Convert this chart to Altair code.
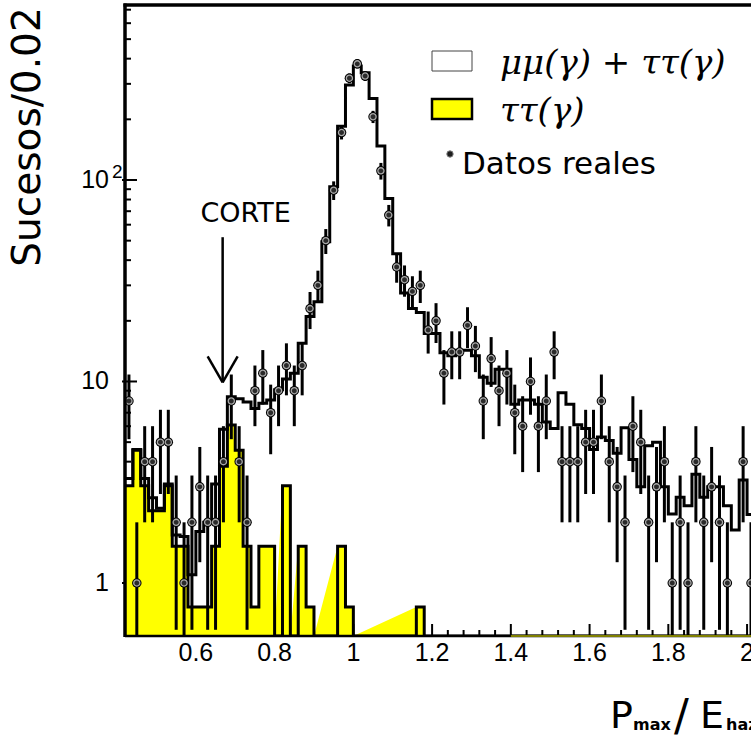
import math
import altair as alt
import pandas as pd

# ---- binning: 0.02 wide bins starting at 0.42 ----
BIN_LO = 0.42
BIN_W = 0.02
N_BINS = 80

# observed events per bin ("Datos reales")
data_counts = [8, 1, 4, 4, 5, 5, 2, 1, 2, 3,
               2, 2, 4, 8, 4, 2, 9, 11, 7, 9,
               12, 9, 12, 23, 30, 50, 89, 172, 320, 377,
               328, 206, 111, 67, 37, 32, 28, 30, 18, 20,
               11, 14, 14, 19, 15, 8, 13, 9, 11, 7,
               6, 10, 6, 8, 14, 4, 4, 4, 5, 5,
               8, 4, 3, 2, 6, 5, 2, 3, 4, 1,
               2, 1, 4, 2, 3, 2, 1, 0, 4, 1]

# simulation: mu mu(gamma) + tau tau(gamma)
mc_total = [3.3, 4.6, 3.3, 2.65, 2.35, 3.1, 1.73, 1.7, 1.1, 1.8,
            2.0, 3.1, 5.8, 8.4, 8.2, 7.9, 7.35, 7.8, 8.1, 9.1,
            10.3, 11.0, 15.5, 21.0, 24.9, 49.4, 92.6, 185.0, 296.0, 368.0,
            341.0, 254.0, 147.5, 81.0, 43.0, 27.5, 23.0, 22.0, 17.3, 17.3,
            13.9, 13.4, 14.3, 14.3, 13.4, 10.5, 9.8, 11.5, 11.5, 7.7,
            8.1, 8.1, 7.7, 6.3, 5.85, 8.8, 7.7, 6.1, 5.85, 4.6,
            5.3, 5.1, 4.4, 5.9, 4.1, 3.0, 4.8, 5.0, 3.0, 2.2,
            2.66, 2.42, 3.46, 2.66, 3.0, 3.0, 2.42, 1.83, 3.24, 2.19]

# simulation: tau tau(gamma) alone
mc_tautau = [3.04, 4.56, 3.04, 2.28, 2.28, 3.04, 1.52, 1.52, 0.76, 0.76,
             0.76, 1.52, 3.80, 6.08, 4.56, 1.52, 0.76, 1.52, 1.52, 0.0,
             3.04, 0.0, 1.52, 0.76, 0.0, 0.0, 0.0, 1.52, 0.76, 0.0,
             0.0, 0.0, 0.0, 0.0, 0.0, 0.0, 0.0, 0.76, 0.0, 0.0] + [0.0] * 40

# axes
X_DOMAIN = [0.42, 2.01]
Y_DOMAIN = [0.5456, 738.6]
YMIN = Y_DOMAIN[0]
x_major_ticks = [0.6, 0.8, 1.0, 1.2, 1.4, 1.6, 1.8, 2.0]
x_tick_labels = ["0.6", "0.8", "1", "1.2", "1.4", "1.6", "1.8", "2"]
x_minor_ticks = [0.44, 0.48, 0.52, 0.56, 0.64, 0.68, 0.72, 0.76, 0.84, 0.88,
                 0.92, 0.96, 1.04, 1.08, 1.12, 1.16, 1.24, 1.28, 1.32, 1.36,
                 1.44, 1.48, 1.52, 1.56, 1.64, 1.68, 1.72, 1.76, 1.84, 1.88,
                 1.92, 1.96]
y_major_ticks = [1, 10, 100]
y_tick_labels = ["1", "10", "10"]
y_minor_ticks = [0.6, 0.7, 0.8, 0.9, 2, 3, 4, 5, 6, 7, 8, 9,
                 20, 30, 40, 50, 60, 70, 80, 90, 200, 300, 400, 500, 600, 700]

# cut annotation
CUT_X = 0.668
ARROW_TOP = 52
ARROW_TIP = 9.9
CUT_LABEL_Y = 68

# faint floor line of the tau tau fill
FLOOR_FROM = 1.40

W, H = 626, 631
FONT = "DejaVu Sans"
NUM_FONT = "Liberation Sans"
YELLOW = "#ffff00"

xs = alt.Scale(domain=X_DOMAIN, nice=False, zero=False)
ys = alt.Scale(type="log", domain=Y_DOMAIN, nice=False)

edges = [round(BIN_LO + BIN_W * k, 4) for k in range(N_BINS + 1)]
centers = [round(BIN_LO + BIN_W * (k + 0.5), 4) for k in range(N_BINS)]


def step_path(values):
    rows = []
    for k, v in enumerate(values):
        y = v if v > 0 else YMIN
        rows.append({"x": edges[k], "y": y})
        rows.append({"x": edges[k + 1], "y": y})
    for i, r in enumerate(rows):
        r["i"] = i
    return pd.DataFrame(rows)


def fill_outline(values):
    # closed outline of the fill: empty bins are skipped, so the fill runs
    # straight from the floor after a run up to the top of the next bin
    rows = [{"x": edges[0], "y": YMIN}]
    for k, v in enumerate(values):
        if v > 0:
            rows.append({"x": edges[k], "y": v})
            rows.append({"x": edges[k + 1], "y": v})
            if k == len(values) - 1 or values[k + 1] <= 0:
                rows.append({"x": edges[k + 1], "y": YMIN})
    for i, r in enumerate(rows):
        r["i"] = i
    return pd.DataFrame(rows)


total_df = step_path(mc_total)
tau_df = step_path(mc_tautau)
tau_fill_df = fill_outline(mc_tautau)

tau_bins_df = pd.DataFrame([
    {"lo": edges[k], "hi": edges[k + 1], "v": v}
    for k, v in enumerate(mc_tautau) if v > 0
])

pts = []
for c, n in zip(centers, data_counts):
    if n > 0:
        err = math.sqrt(n)
        pts.append({"x": c, "n": n, "lo": max(n - err, YMIN), "hi": n + err})
pts_df = pd.DataFrame(pts)

one = pd.DataFrame({"a": [0]})


def X(f):
    return alt.X(f, type="quantitative", scale=xs, axis=None)


def Y(f):
    return alt.Y(f, type="quantitative", scale=ys, axis=None)


# inward tick marks
xmin_t = alt.Chart(pd.DataFrame({"t": x_minor_ticks})).mark_rule(
    color="black", strokeWidth=2).encode(x=X("t"), y=alt.value(H), y2=alt.value(H - 6))
xmaj_t = alt.Chart(pd.DataFrame({"t": x_major_ticks})).mark_rule(
    color="black", strokeWidth=2).encode(x=X("t"), y=alt.value(H), y2=alt.value(H - 12))
ymin_t = alt.Chart(pd.DataFrame({"t": y_minor_ticks})).mark_rule(
    color="black", strokeWidth=2).encode(y=Y("t"), x=alt.value(0), x2=alt.value(6))
ymaj_t = alt.Chart(pd.DataFrame({"t": y_major_ticks})).mark_rule(
    color="black", strokeWidth=2).encode(y=Y("t"), x=alt.value(-3), x2=alt.value(12))

tau_rects = alt.Chart(tau_bins_df).mark_rect(color=YELLOW, opacity=1, clip=True).encode(
    x=X("lo"), x2="hi:Q", y=Y("v"), y2=alt.value(H))
tau_poly = alt.Chart(tau_fill_df).mark_line(filled=True, color=YELLOW, opacity=1,
                                            clip=True).encode(
    x=X("x"), y=Y("y"), order="i:Q")
tau_line = alt.Chart(tau_df).mark_line(color="black", strokeWidth=3, clip=True,
                                       strokeJoin="miter").encode(
    x=X("x"), y=Y("y"), order="i:Q")
total_line = alt.Chart(total_df).mark_line(color="black", strokeWidth=3, clip=True,
                                           strokeJoin="miter").encode(
    x=X("x"), y=Y("y"), order="i:Q")

err_bars = alt.Chart(pts_df).mark_rule(color="black", strokeWidth=3, clip=True).encode(
    x=X("x"), y=Y("lo"), y2="hi:Q")
points_outer = alt.Chart(pts_df).mark_circle(size=90, opacity=1, color="black",
                                             clip=True).encode(x=X("x"), y=Y("n"))
points_inner = alt.Chart(pts_df).mark_circle(size=38, opacity=1, fill="#2a2a2a",
                                             stroke="#a8a8a8", strokeWidth=1.3,
                                             clip=True).encode(x=X("x"), y=Y("n"))

# frame
frame_left = alt.Chart(one).mark_rule(color="black", strokeWidth=3.5).encode(
    x=alt.value(0), y=alt.value(-1.5), y2=alt.value(H + 1))
frame_bottom = alt.Chart(one).mark_rule(color="black", strokeWidth=2.5).encode(
    y=alt.value(H), x=alt.value(0), x2=alt.value(W + 2))
frame_top = alt.Chart(one).mark_rule(color="black", strokeWidth=3.5).encode(
    y=alt.value(0), x=alt.value(-1.5), x2=alt.value(W + 2))
floor_line = alt.Chart(pd.DataFrame({"a": [FLOOR_FROM], "b": [X_DOMAIN[1]]})).mark_rule(
    color=YELLOW, strokeWidth=1).encode(x=X("a"), x2="b:Q", y=alt.value(H))

# tick labels
xlab = alt.Chart(pd.DataFrame({"t": x_major_ticks, "s": x_tick_labels})).mark_text(
    font=NUM_FONT, fontSize=25, baseline="middle", align="center", color="black").encode(
    x=X("t"), y=alt.value(H + 17), text="s:N")
ylab = alt.Chart(pd.DataFrame({"t": y_major_ticks, "s": y_tick_labels})).mark_text(
    font=NUM_FONT, fontSize=25, baseline="middle", align="right", color="black").encode(
    y=Y("t"), x=alt.value(-16), text="s:N")
ysup = alt.Chart(pd.DataFrame({"t": [100]})).mark_text(
    text="2", font=NUM_FONT, fontSize=19, baseline="middle", align="left",
    color="black", dy=-8).encode(y=Y("t"), x=alt.value(-13))

# cut arrow
cut_df = pd.DataFrame({"x": [CUT_X], "top": [ARROW_TOP], "tip": [ARROW_TIP],
                       "ly": [CUT_LABEL_Y]})
arrow_shaft = alt.Chart(cut_df).mark_rule(color="black", strokeWidth=2.5).encode(
    x=X("x"), y=Y("top"), y2="tip:Q")
arrow_l = alt.Chart(cut_df).mark_rule(color="black", strokeWidth=2.5,
                                      x2Offset=-15, y2Offset=-26).encode(
    x=X("x"), x2="x:Q", y=Y("tip"), y2="tip:Q")
arrow_r = alt.Chart(cut_df).mark_rule(color="black", strokeWidth=2.5,
                                      x2Offset=15, y2Offset=-26).encode(
    x=X("x"), x2="x:Q", y=Y("tip"), y2="tip:Q")
cut_text = alt.Chart(cut_df).mark_text(text="CORTE", font=FONT, fontSize=27,
                                       align="center", baseline="middle", dx=23,
                                       color="black").encode(x=X("x"), y=Y("ly"))


def label(text, x, y, **kw):
    opts = dict(font=FONT, color="black", align="left", baseline="middle")
    opts.update(kw)
    return alt.Chart(one).mark_text(text=text, **opts).encode(
        x=alt.value(x), y=alt.value(y))


# legend
leg_box1 = alt.Chart(one).mark_rect(fill="white", stroke="#444444", strokeWidth=1).encode(
    x=alt.value(307), x2=alt.value(347), y=alt.value(46), y2=alt.value(66))
leg_box2 = alt.Chart(one).mark_rect(fill=YELLOW, stroke="black", strokeWidth=2.5).encode(
    x=alt.value(307), x2=alt.value(347), y=alt.value(94), y2=alt.value(114))
leg_dot = alt.Chart(one).mark_circle(size=40, opacity=1, fill="#1e1e1e",
                                     stroke="#777777", strokeWidth=1).encode(
    x=alt.value(325), y=alt.value(149))
leg_t1 = label("μμ(γ) + ττ(γ)", 375, 59, font="DejaVu Serif", fontStyle="italic",
               fontSize=34)
leg_t2 = label("ττ(γ)", 375, 107, font="DejaVu Serif", fontStyle="italic", fontSize=34)
leg_t3 = label("Datos reales", 337, 160, fontSize=31)

# axis titles
ytitle = label("Sucesos/0.02", -97, 132, fontSize=39, angle=270, align="center")
xt_p = label("P", 485, 723, fontSize=38, baseline="alphabetic")
xt_max = label("max", 508, 725, fontSize=16, fontWeight="bold", baseline="alphabetic")
xt_sl = label("/", 549, 726, fontSize=44, baseline="alphabetic")
xt_e = label("E", 575, 723, fontSize=38, baseline="alphabetic")
xt_haz = label("haz", 601, 725, fontSize=16, fontWeight="bold", baseline="alphabetic")

chart = alt.layer(
    xmin_t, xmaj_t, ymin_t, ymaj_t,
    tau_rects, tau_poly, tau_line, total_line,
    err_bars, points_outer, points_inner,
    frame_left, frame_bottom, frame_top, floor_line,
    xlab, ylab, ysup,
    arrow_shaft, arrow_l, arrow_r, cut_text,
    leg_box1, leg_box2, leg_dot, leg_t1, leg_t2, leg_t3,
    ytitle, xt_p, xt_max, xt_sl, xt_e, xt_haz,
).properties(
    width=W, height=H,
    autosize=alt.AutoSizeParams(type="none"),
    padding={"left": 125, "top": 5, "right": 0, "bottom": 100},
    background="white",
).configure_view(stroke=None)

chart.save("out.html", embed_options={"renderer": "svg", "actions": False})
